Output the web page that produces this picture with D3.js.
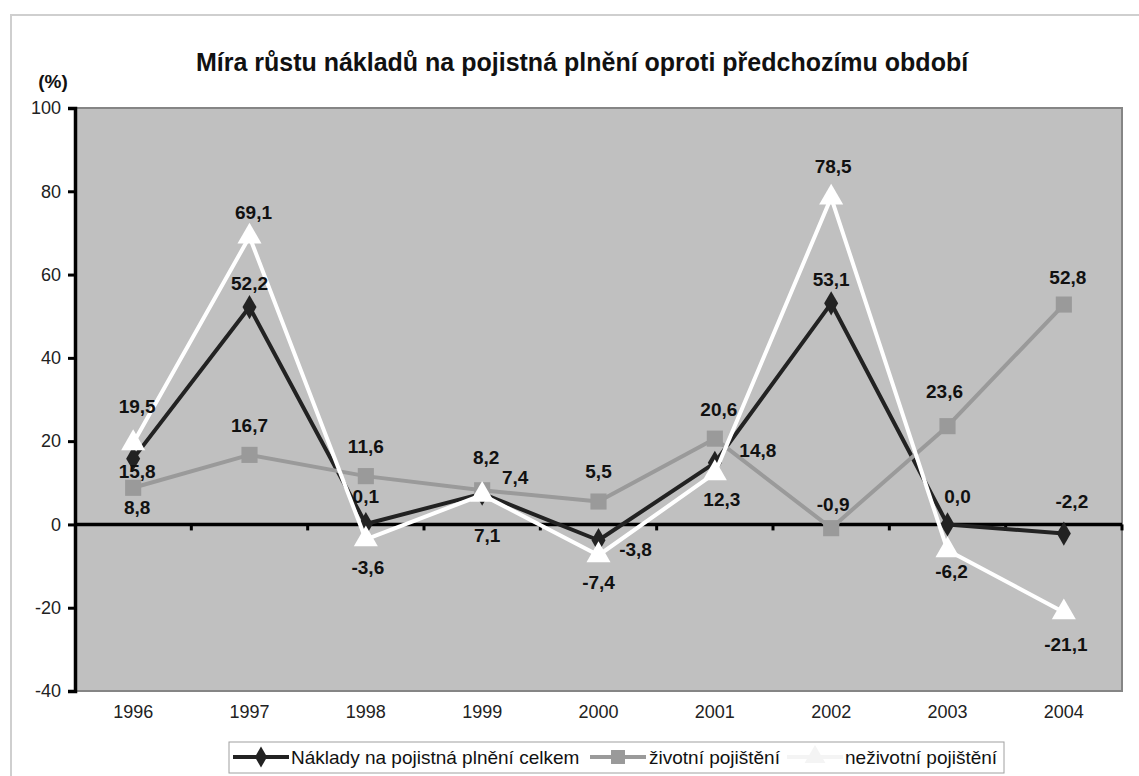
<!DOCTYPE html>
<html>
<head>
<meta charset="utf-8">
<script src="https://cdn.jsdelivr.net/npm/d3@7"></script>
<style>
  body { margin: 0; background: #fff; }
  text { font-family: "Liberation Sans", Arial, sans-serif; }
</style>
</head>
<body>
<div id="chart"></div>
<script>
// data
const years = ["1996", "1997", "1998", "1999", "2000", "2001", "2002", "2003", "2004"];
const celkem = [15.8, 52.2, 0.1, 7.4, -3.8, 14.8, 53.1, 0.0, -2.2];
const zivotni = [8.8, 16.7, 11.6, 8.2, 5.5, 20.6, -0.9, 23.6, 52.8];
const nezivotni = [19.5, 69.1, -3.6, 7.1, -7.4, 12.3, 78.5, -6.2, -21.1];
const yTicks = [-40, -20, 0, 20, 40, 60, 80, 100];
const seriesNames = ["Náklady na pojistná plnění celkem", "životní pojištění", "neživotní pojištění"];

// where each value label sits relative to its point [dx, dy]
const labelOffsets = [
    [[4, 13], [0, -24], [0, -28], [33, -16], [37, 9], [43, -13], [0, -24], [10, -28], [8, -32]],
    [[4, 19], [0, -30], [0, -30], [4, -33], [0, -30], [4, -29], [2, -24], [-3, -35], [4, -27]],
    [[4, -37], [4, -25], [2, 28], [5, 40], [0, 27], [7, 26], [2, -31], [4, 21], [2, 32]]
];

const width = 1139;
const height = 776;
const plot = {left: 75, right: 1122, top: 108, bottom: 691};

const fmt = (d) => d3.format(".1f")(d).replace("−", "-").replace(".", ",");

const svg = d3.select("#chart").append("svg").attr("width", width).attr("height", height);

// outer frame
svg.append("rect")
    .attr("x", 11).attr("y", 15)
    .attr("width", width + 20).attr("height", height + 20)
    .attr("fill", "#fff").attr("stroke", "#cfcfcf").attr("stroke-width", 2);

const xScale = d3.scaleBand().domain(years).range([plot.left, plot.right]);
const yScale = d3.scaleLinear().domain([-40, 100]).range([plot.bottom, plot.top]);
const xc = (i) => xScale(years[i]) + xScale.bandwidth() / 2;

// plot area
svg.append("rect")
    .attr("x", plot.left).attr("y", plot.top)
    .attr("width", plot.right - plot.left).attr("height", plot.bottom - plot.top)
    .attr("fill", "#c0c0c0").attr("stroke", "#858585").attr("stroke-width", 2);

// title
svg.append("text")
    .attr("x", 582).attr("y", 71)
    .attr("text-anchor", "middle")
    .style("font-size", "25px").style("font-weight", "bold").style("fill", "#111")
    .text("Míra růstu nákladů na pojistná plnění oproti předchozímu období");

svg.append("text")
    .attr("x", 53).attr("y", 88)
    .attr("text-anchor", "middle")
    .style("font-size", "19px").style("font-weight", "bold").style("fill", "#111")
    .text("(%)");

// y axis
const yAxis = d3.axisLeft(yScale).tickValues(yTicks).tickSize(7).tickPadding(7);
const gy = svg.append("g").attr("transform", `translate(${plot.left},0)`).call(yAxis);
gy.select(".domain").attr("stroke", "#000").attr("stroke-width", 3.5);
gy.selectAll(".tick line").attr("stroke", "#000").attr("stroke-width", 3);
gy.selectAll(".tick text").style("font-size", "18px").style("fill", "#222")
    .text((d) => d < 0 ? "-" + Math.abs(d) : d);

// zero line with tick marks on category boundaries
svg.append("line")
    .attr("x1", plot.left).attr("x2", plot.right)
    .attr("y1", yScale(0)).attr("y2", yScale(0))
    .attr("stroke", "#000").attr("stroke-width", 3.5);

svg.append("g").selectAll("line")
    .data(years.slice(1).concat(["end"]))
    .join("line")
    .attr("x1", (d, i) => i < years.length - 1 ? xScale(d) : plot.right)
    .attr("x2", (d, i) => i < years.length - 1 ? xScale(d) : plot.right)
    .attr("y1", yScale(0)).attr("y2", yScale(0) + 6)
    .attr("stroke", "#000").attr("stroke-width", 3);

// x labels
const xAxis = d3.axisBottom(xScale).tickSize(0).tickPadding(0);
const gx = svg.append("g").attr("transform", `translate(0,${plot.bottom + 14})`).call(xAxis);
gx.select(".domain").remove();
gx.selectAll(".tick text").style("font-size", "18px").style("fill", "#222");

// series
const series = [
    {values: celkem, color: "#222", marker: d3.symbolDiamond, size: 170, fill: "#222"},
    {values: zivotni, color: "#9a9a9a", marker: d3.symbolSquare, size: 260, fill: "#9a9a9a"},
    {values: nezivotni, color: "#fff", marker: d3.symbolTriangle, size: 250, fill: "#fff"}
];

const line = d3.line().x((d, i) => xc(i)).y((d) => yScale(d));

series.forEach((s, si) => {
    const g = svg.append("g");
    g.append("path")
        .attr("d", line(s.values))
        .attr("fill", "none").attr("stroke", s.color).attr("stroke-width", 4)
        .attr("stroke-linejoin", "round");
    g.selectAll("path.m")
        .data(s.values)
        .join("path")
        .attr("class", "m")
        .attr("transform", (d, i) => `translate(${xc(i)},${yScale(d)})`)
        .attr("d", d3.symbol().type(s.marker).size(s.size))
        .attr("fill", s.fill);
});

// value labels on top
series.forEach((s, si) => {
    svg.append("g").selectAll("text")
        .data(s.values)
        .join("text")
        .attr("x", (d, i) => xc(i) + labelOffsets[si][i][0])
        .attr("y", (d, i) => yScale(d) + labelOffsets[si][i][1])
        .attr("text-anchor", "middle")
        .attr("dy", "0.36em")
        .style("font-size", "19px").style("font-weight", "bold").style("fill", "#111")
        .text(fmt);
});

// legend
const legend = svg.append("g");
legend.append("rect")
    .attr("x", 229).attr("y", 742).attr("width", 775).attr("height", 31)
    .attr("fill", "#fff").attr("stroke", "#a0a0a0").attr("stroke-width", 1);

const legendX = [233, 590, 787];
const textX = [291, 649, 845];
series.forEach((s, si) => {
    const cy = 757;
    legend.append("line")
        .attr("x1", legendX[si]).attr("x2", legendX[si] + 56)
        .attr("y1", cy).attr("y2", cy)
        .attr("stroke", si === 2 ? "#f4f4f4" : s.color).attr("stroke-width", 4);
    legend.append("path")
        .attr("transform", `translate(${legendX[si] + 28},${cy})`)
        .attr("d", d3.symbol().type(s.marker).size(s.size * 0.75))
        .attr("fill", si === 2 ? "#f4f4f4" : s.fill);
    legend.append("text")
        .attr("x", textX[si]).attr("y", cy).attr("dy", "0.36em")
        .style("font-size", "19px").style("fill", "#111")
        .text(seriesNames[si]);
});
</script>
</body>
</html>
